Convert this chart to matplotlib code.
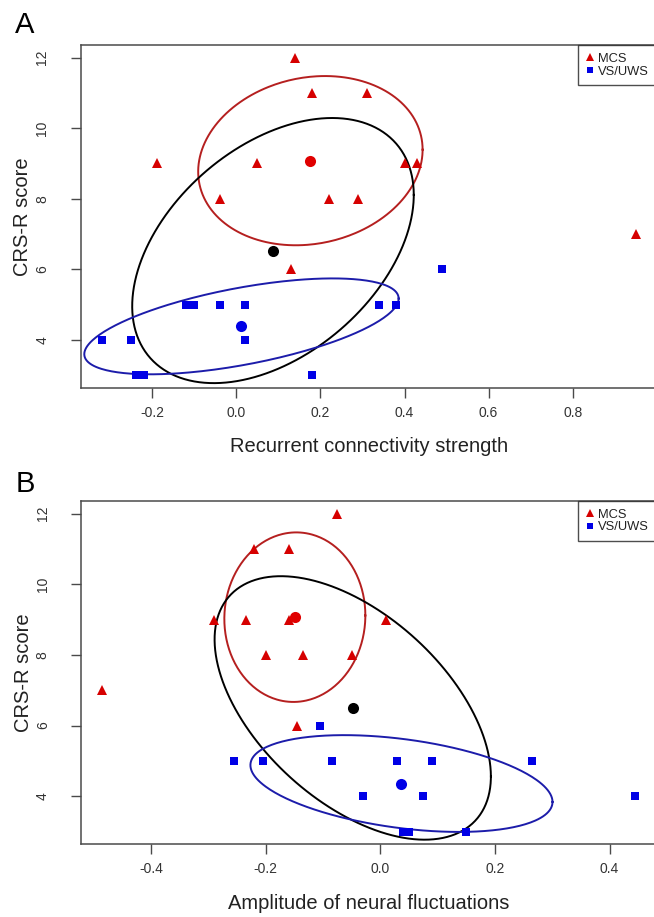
import numpy as np
import matplotlib
matplotlib.use("Agg")
import matplotlib.pyplot as plt
from matplotlib.lines import Line2D

plt.rcParams["font.family"] = ["Liberation Sans", "DejaVu Sans"]

# ---- panel A: recurrent connectivity strength ----
a_mcs_x = [0.14, 0.18, 0.31, -0.19, 0.05, 0.40, 0.43, -0.04, 0.22, 0.29, 0.13, 0.95]
a_mcs_y = [12, 11, 11, 9, 9, 9, 9, 8, 8, 8, 6, 7]
a_vs_x = [-0.32, -0.25, -0.24, -0.22, -0.12, -0.10, -0.04, 0.02, 0.02, 0.18, 0.34, 0.38, 0.49]
a_vs_y = [4, 4, 3, 3, 5, 5, 5, 5, 4, 3, 5, 5, 6]
a_means = {"mcs": (0.176, 9.08), "vs": (0.012, 4.38), "all": (0.087, 6.53)}
# half-width (x), half-height (y), correlation
a_ellipses = {"mcs": (0.267, 2.40, 0.13), "vs": (0.374, 1.36, 0.58), "all": (0.335, 3.76, 0.42)}

# ---- panel B: amplitude of neural fluctuations ----
b_mcs_x = [-0.075, -0.22, -0.16, -0.29, -0.235, -0.16, 0.01, -0.20, -0.135, -0.05, -0.485, -0.145]
b_mcs_y = [12, 11, 11, 9, 9, 9, 9, 8, 8, 8, 7, 6]
b_vs_x = [-0.105, -0.255, -0.205, -0.085, 0.03, 0.09, 0.265, -0.03, 0.075, 0.445, 0.04, 0.05, 0.15]
b_vs_y = [6, 5, 5, 5, 5, 5, 5, 4, 4, 4, 3, 3, 3]
b_means = {"mcs": (-0.149, 9.07), "vs": (0.037, 4.36), "all": (-0.048, 6.50)}
b_ellipses = {"mcs": (0.123, 2.40, 0.02), "vs": (0.2635, 1.37, -0.38), "all": (0.241, 3.73, -0.52)}

MARK_RED = "#d60000"
MARK_BLUE = "#0000e6"
ELL_COLORS = {"mcs": "#b51f1f", "vs": "#1c1caa", "all": "black"}
MEAN_COLORS = {"mcs": "#e00000", "vs": "#0000e6", "all": "black"}
SPINE = "#4a4a4a"


def ellipse_xy(center, shape, n=300):
    t = np.linspace(0, 2 * np.pi, n)
    w, h, r = shape
    x = center[0] + w * np.cos(t)
    y = center[1] + h * (r * np.cos(t) + np.sqrt(1 - r ** 2) * np.sin(t))
    return x, y


def draw_panel(ax, mcs_x, mcs_y, vs_x, vs_y, means, ellipses, xlim, xticks, xlabel):
    for key in ["mcs", "all", "vs"]:
        ex, ey = ellipse_xy(means[key], ellipses[key])
        ax.plot(ex, ey, color=ELL_COLORS[key], lw=1.4, zorder=2)
    ax.plot(mcs_x, mcs_y, "^", color=MARK_RED, ms=7, mew=0, ls="none", zorder=3)
    ax.plot(vs_x, vs_y, "s", color=MARK_BLUE, ms=5.4, mew=0, ls="none", zorder=3)
    for key in ["mcs", "vs", "all"]:
        ax.plot(*means[key], "o", color=MEAN_COLORS[key], ms=8, mew=0, zorder=4)

    ax.set_xlim(*xlim)
    ax.set_ylim(2.64, 12.36)
    ax.set_xticks(xticks)
    ax.set_xticklabels([f"{v:.1f}" for v in xticks])
    ax.set_yticks([4, 6, 8, 10, 12])
    ax.set_yticklabels(["4", "6", "8", "10", "12"], rotation=90, va="center")

    for s in ax.spines.values():
        s.set_color(SPINE)
        s.set_linewidth(1.1)
    ax.tick_params(axis="both", direction="out", length=7.5, width=1.0,
                   color=SPINE, labelsize=10, labelcolor="#333333")
    ax.tick_params(axis="x", pad=5.5)
    ax.tick_params(axis="y", pad=15)

    ax.set_xlabel(xlabel, fontsize=14.5, color="#222222")
    ax.xaxis.set_label_coords(0.5, -0.172)
    ax.xaxis.label.set_va("center")
    ax.set_ylabel("CRS-R score", fontsize=14.5, color="#222222")
    ax.yaxis.set_label_coords(-0.1, 0.5)
    ax.yaxis.label.set_va("center")

    handles = [
        Line2D([], [], marker="^", color=MARK_RED, ls="none", ms=5.5, mew=0),
        Line2D([], [], marker="s", color=MARK_BLUE, ls="none", ms=4.5, mew=0),
    ]
    leg = ax.legend(handles, ["MCS", "VS/UWS"], loc="upper right", borderaxespad=0,
                    fontsize=9.3, frameon=True, fancybox=False, handlelength=0.6,
                    handletextpad=0.35, labelspacing=0.05, borderpad=0.6)
    leg.get_frame().set_edgecolor("#222222")
    leg.get_frame().set_linewidth(1.0)
    for txt in leg.get_texts():
        txt.set_color("#222222")


fig = plt.figure(figsize=(6.54, 9.17), dpi=100)
ax_a = fig.add_axes([0.1231, 0.5772, 0.881, 0.3737])
ax_b = fig.add_axes([0.1239, 0.0793, 0.880, 0.3744])

draw_panel(ax_a, a_mcs_x, a_mcs_y, a_vs_x, a_vs_y, a_means, a_ellipses,
           (-0.371, 1.0), [-0.2, 0.0, 0.2, 0.4, 0.6, 0.8],
           "Recurrent connectivity strength")
draw_panel(ax_b, b_mcs_x, b_mcs_y, b_vs_x, b_vs_y, b_means, b_ellipses,
           (-0.522, 0.482), [-0.4, -0.2, 0.0, 0.2, 0.4],
           "Amplitude of neural fluctuations")

fig.text(25 / 654, 1 - 25 / 917, "A", fontsize=21, ha="center", va="center")
fig.text(25 / 654, 1 - 484 / 917, "B", fontsize=21, ha="center", va="center")

fig.savefig("out.png", dpi=100)
